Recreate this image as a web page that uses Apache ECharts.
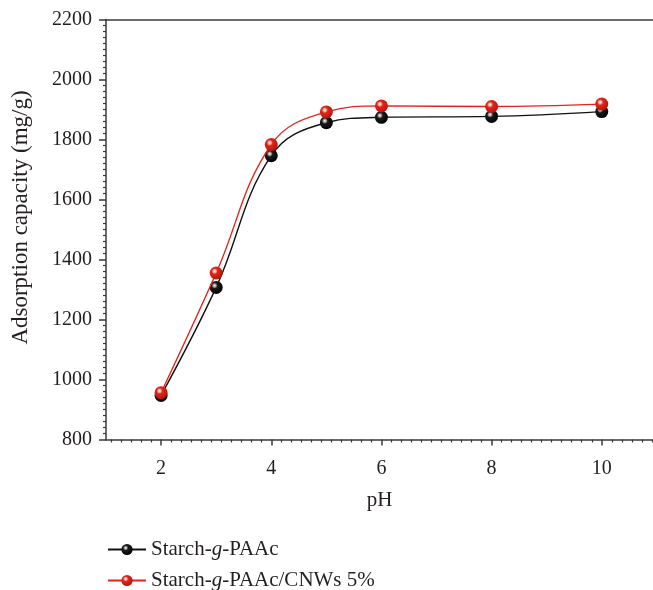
<!DOCTYPE html>
<html>
<head>
<meta charset="utf-8">
<script src="https://cdn.jsdelivr.net/npm/echarts@6/dist/echarts.min.js"></script>
<style>
  html, body { margin: 0; padding: 0; background: #fff; }
  #chart { width: 653px; height: 590px; }
</style>
</head>
<body>
<div id="chart"></div>
<script>
// pH values of the adsorption runs
const phValues = [2, 3, 4, 5, 6, 8, 10];
// adsorption capacity (mg/g)
const starchPAAc = [947, 1307, 1746, 1856, 1874, 1877, 1893];
const starchPAAcCNW = [956, 1355, 1783, 1892, 1912, 1910, 1918];
// labelled ticks
const xTickLabels = [2, 4, 6, 8, 10];
const yMin = 800, yMax = 2200, yStep = 200;

const seriesNames = ['Starch-g-PAAc', 'Starch-g-PAAc/CNWs 5%'];

// minor ticks along the pH axis: 11 per 2-unit span
const xMin = 1, xMax = 10.93;
const minorStep = 2 / 11;
const xMinorTicks = [];
for (let v = 2 - minorStep * 5; v < xMax; v += minorStep) {
  if (Math.abs((v - 2) / 2 - Math.round((v - 2) / 2)) > 1e-6) xMinorTicks.push(+v.toFixed(4));
}

const serif = '"Liberation Serif", "DejaVu Serif", serif';
const ink = '#231f20';
const axisInk = '#3a3a3a';

function ball(base, dark, shine) {
  return {
    type: 'radial', x: 0.38, y: 0.36, r: 0.68,
    colorStops: [
      { offset: 0, color: '#ffffff' },
      { offset: 0.18, color: shine },
      { offset: 0.34, color: base },
      { offset: 1, color: dark }
    ]
  };
}

// one legend row per series, with the "g" set in italics
function legendRow(name, top) {
  return {
    orient: 'vertical',
    left: 102,
    top: top,
    itemWidth: 38,
    itemHeight: 14,
    data: [name],
    formatter: function (n) {
      const parts = n.split('-g-');
      return '{n|' + parts[0] + '-}{i|g}{n|-' + parts[1] + '}';
    },
    textStyle: {
      fontFamily: serif,
      fontSize: 21,
      color: ink,
      rich: {
        n: { fontFamily: serif, fontSize: 21, color: ink },
        i: { fontFamily: serif, fontSize: 21, color: ink, fontStyle: 'italic' }
      }
    }
  };
}

const chart = echarts.init(document.getElementById('chart'), null, { renderer: 'canvas' });

chart.setOption({
  backgroundColor: '#ffffff',
  animation: false,
  grid: { left: 106, right: 0, top: 19.5, bottom: 150.5, containLabel: false, outerBoundsMode: 'none' },
  legend: [legendRow(seriesNames[0], 534), legendRow(seriesNames[1], 565)],
  xAxis: [
    {
      type: 'value',
      min: xMin,
      max: xMax,
      name: 'pH',
      nameLocation: 'middle',
      nameGap: 50,
      nameTextStyle: { fontFamily: serif, fontSize: 21, color: ink },
      axisLine: { show: true, lineStyle: { color: axisInk, width: 1.5 } },
      axisTick: { show: true, length: 6, customValues: xTickLabels, lineStyle: { color: axisInk, width: 1.5 } },
      axisLabel: { customValues: xTickLabels, margin: 19, fontFamily: serif, fontSize: 20, color: ink },
      splitLine: { show: false }
    },
    {
      type: 'value',
      min: xMin,
      max: xMax,
      position: 'bottom',
      axisLine: { show: false },
      axisTick: { show: true, length: 3, customValues: xMinorTicks, lineStyle: { color: axisInk, width: 1.2 } },
      axisLabel: { show: false },
      splitLine: { show: false }
    },
    {
      type: 'value',
      min: xMin,
      max: xMax,
      position: 'top',
      axisLine: { show: true, lineStyle: { color: axisInk, width: 1.5 } },
      axisTick: { show: false },
      axisLabel: { show: false },
      splitLine: { show: false }
    }
  ],
  yAxis: {
    type: 'value',
    min: yMin,
    max: yMax,
    interval: yStep,
    name: 'Adsorption capacity (mg/g)',
    nameLocation: 'middle',
    nameGap: 74,
    nameTextStyle: { fontFamily: serif, fontSize: 23, color: ink, padding: [0, 0, 0, 24] },
    axisLine: { show: true, lineStyle: { color: axisInk, width: 1.5 } },
    axisTick: { show: true, length: 7, lineStyle: { color: axisInk, width: 1.5 } },
    minorTick: { show: true, splitNumber: 10, length: 3, lineStyle: { color: axisInk, width: 1.2 } },
    axisLabel: { margin: 14, fontFamily: serif, fontSize: 20, color: ink, formatter: v => String(v) },
    splitLine: { show: false }
  },
  series: [
    {
      name: seriesNames[0],
      type: 'line',
      xAxisIndex: 0,
      data: phValues.map((p, i) => [p, starchPAAc[i]]),
      smooth: 0.4,
      symbol: 'circle',
      symbolSize: 13,
      lineStyle: { color: '#111111', width: 1.4 },
      itemStyle: { color: ball('#1a1a1a', '#000000', '#9a9a9a'), borderWidth: 0 },
      z: 3
    },
    {
      name: seriesNames[1],
      type: 'line',
      xAxisIndex: 0,
      data: phValues.map((p, i) => [p, starchPAAcCNW[i]]),
      smooth: 0.4,
      symbol: 'circle',
      symbolSize: 13,
      lineStyle: { color: '#e0261b', width: 1.4 },
      itemStyle: { color: ball('#e0261b', '#b3160c', '#f3a79f'), borderWidth: 0 },
      z: 4
    }
  ]
});
</script>
</body>
</html>
